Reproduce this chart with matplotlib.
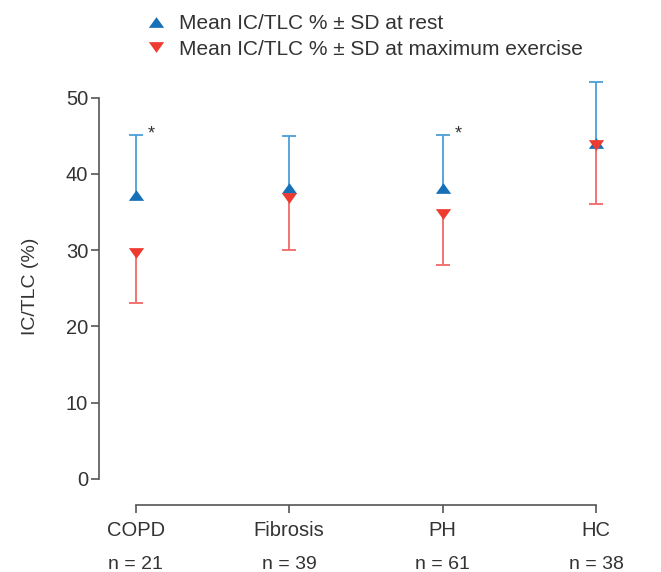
import matplotlib
matplotlib.use("Agg")
import matplotlib.pyplot as plt
from matplotlib.lines import Line2D
import numpy as np

plt.rcParams['font.family'] = ['Liberation Sans', 'DejaVu Sans']

# data
groups = ['COPD', 'Fibrosis', 'PH', 'HC']
n_labels = ['n = 21', 'n = 39', 'n = 61', 'n = 38']
rest_mean = [37.2, 38.1, 38.2, 44.0]
rest_sd = [7.9, 6.9, 6.9, 8.0]
ex_mean = [29.6, 36.8, 34.7, 43.8]
ex_sd = [6.5, 6.8, 6.7, 7.8]
star_groups = ['COPD', 'PH']

blue = '#1570b8'
blue_bar = '#4b9fd8'
red = '#ee3b30'
red_bar = '#f26868'
axcol = '#555555'
txtcol = '#333333'

up = [(-1, -0.7), (1, -0.7), (0, 0.7), (-1, -0.7)]
down = [(-1, 0.7), (1, 0.7), (0, -0.7), (-1, 0.7)]

fig = plt.figure(figsize=(6.61, 5.72), dpi=100)
ax = fig.add_axes([99.3 / 661, 1 - 505.3 / 572, 527.4 / 661, 438.3 / 572])

x = np.arange(len(groups))
rest_top = np.array(rest_mean) + np.array(rest_sd)
ex_bot = np.array(ex_mean) - np.array(ex_sd)

# one-sided error bars: line from the mean, cap only at the far end
ax.vlines(x, rest_mean, rest_top, color=blue_bar, linewidth=1.3, zorder=2)
ax.plot(x, rest_top, linestyle='none', marker='_', markersize=10.5,
        markeredgewidth=1.3, color=blue_bar, zorder=2)
ax.vlines(x, ex_bot, ex_mean, color=red_bar, linewidth=1.3, zorder=2)
ax.plot(x, ex_bot, linestyle='none', marker='_', markersize=10.5,
        markeredgewidth=1.3, color=red_bar, zorder=2)

ax.plot(x, rest_mean, linestyle='none', marker=up, markersize=11,
        color=blue, markeredgewidth=0, zorder=3)
ax.plot(x, ex_mean, linestyle='none', marker=down, markersize=11,
        color=red, markeredgewidth=0, zorder=4)

for g in star_groups:
    i = groups.index(g)
    ax.text(i + 0.1, rest_top[i] + 0.1, '*', ha='center',
            va='center', fontsize=13, color=txtcol)

ax.set_xlim(-0.237, 3.2)
ax.set_ylim(-3.45, 54)
ax.set_yticks([0, 10, 20, 30, 40, 50])
ax.set_xticks(x)
ax.set_xticklabels(groups)

for s in ['top', 'right']:
    ax.spines[s].set_visible(False)
ax.spines['left'].set_bounds(0, 50)
ax.spines['bottom'].set_bounds(0, 3)
for s in ['left', 'bottom']:
    ax.spines[s].set_color(axcol)
    ax.spines[s].set_linewidth(1.2)

ax.tick_params(axis='both', colors=axcol, length=6, width=1.2,
               labelcolor=txtcol, labelsize=14.5)
ax.tick_params(axis='x', pad=5)
ax.tick_params(axis='y', pad=2)

for i, lab in enumerate(n_labels):
    ax.text(i, -0.134, lab, transform=ax.get_xaxis_transform(),
            ha='center', va='center', fontsize=14, color=txtcol)

ax.set_ylabel('IC/TLC (%)', fontsize=14, color=txtcol, labelpad=19)

handles = [
    Line2D([], [], linestyle='none', marker=up, markersize=11, color=blue,
           markeredgewidth=0),
    Line2D([], [], linestyle='none', marker=down, markersize=11, color=red,
           markeredgewidth=0),
]
fig.legend(handles, ['Mean IC/TLC % \u00b1 SD at rest',
                     'Mean IC/TLC % \u00b1 SD at maximum exercise'],
           loc='upper left', bbox_to_anchor=(135 / 661, 1 - 4 / 572),
           frameon=False, fontsize=15, handletextpad=0.6, labelspacing=0.3,
           borderpad=0, handlelength=1.0, labelcolor=txtcol)

fig.savefig('out.png', dpi=100)
